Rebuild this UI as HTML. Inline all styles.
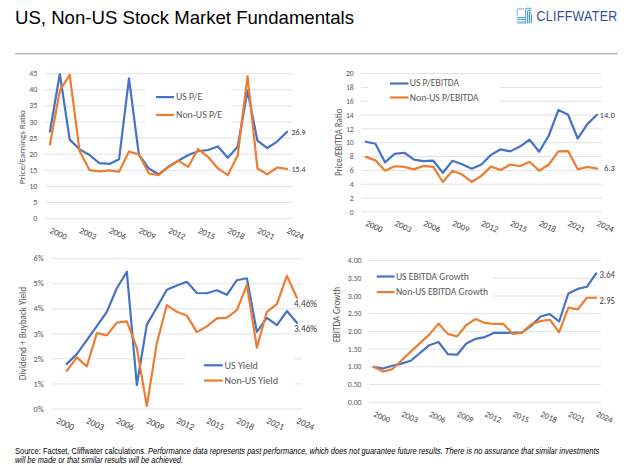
<!DOCTYPE html>
<html><head><meta charset="utf-8"><title>US, Non-US Stock Market Fundamentals</title>
<style>
html,body{margin:0;padding:0;background:#fff;}
body{width:624px;height:472px;overflow:hidden;position:relative;}
svg{position:absolute;left:0;top:0;}
</style></head><body>
<svg width="624" height="472" viewBox="0 0 624 472" font-family="Carlito, 'Liberation Sans', sans-serif">
<rect width="624" height="472" fill="#fff"/>
<text x="15.0" y="24.4" font-family="'Liberation Sans', Arial, sans-serif" font-size="19" fill="#000" textLength="339" lengthAdjust="spacingAndGlyphs">US, Non-US Stock Market Fundamentals</text>
<g id="logo" fill="none" stroke-width="1.2" stroke-linejoin="round">
<path d="M517.2,15.8 V9.8 Q517.2,8.8 518.2,8.8 H524" stroke="#86BDE8"/>
<path d="M517,17.5 H525.5 M517,19.4 H525.5" stroke="#5AA5DD"/>
<rect x="517" y="21.3" width="8.5" height="2.3" fill="#8CC4EA" stroke="none"/>
<path d="M525.6,23.6 V9.6 Q525.6,8.4 526.8,8.4 H531.4" stroke="#6AB0E2"/>
<path d="M527.5,23.3 V11.4 Q527.5,10.4 528.5,10.4 H531.4" stroke="#56A3DC"/>
<path d="M529.4,23.3 V13.2 Q529.4,12.4 530.2,12.4 H531" stroke="#3F93D3"/>
<path d="M531.4,23.3 V14.2" stroke="#4C9BD8"/>
</g>
<text transform="translate(536.6,20.8) scale(1,1.12)" x="0" y="0" font-family="'Liberation Sans', Arial, sans-serif" font-size="12.4" fill="#2F4F9C" textLength="80.6" lengthAdjust="spacing">CLIFFWATER</text>
<rect x="15" y="53" width="603" height="1" fill="#B2B2BE"/>
<rect x="15" y="54" width="603" height="0.6" fill="#DADAE0"/>
<g id="pe"><line x1="45" y1="218.7" x2="292" y2="218.7" stroke="#E2E2E2" stroke-width="1"/>
<text x="33.25" y="221.26" font-size="8" fill="#595959" textLength="4.05" lengthAdjust="spacingAndGlyphs">0</text>
<line x1="45" y1="202.58" x2="292" y2="202.58" stroke="#E2E2E2" stroke-width="1"/>
<text x="33.25" y="205.14" font-size="8" fill="#595959" textLength="4.05" lengthAdjust="spacingAndGlyphs">5</text>
<line x1="45" y1="186.46" x2="292" y2="186.46" stroke="#E2E2E2" stroke-width="1"/>
<text x="29.19" y="189.02" font-size="8" fill="#595959" textLength="8.11" lengthAdjust="spacingAndGlyphs">10</text>
<line x1="45" y1="170.34" x2="292" y2="170.34" stroke="#E2E2E2" stroke-width="1"/>
<text x="29.19" y="172.9" font-size="8" fill="#595959" textLength="8.11" lengthAdjust="spacingAndGlyphs">15</text>
<line x1="45" y1="154.22" x2="292" y2="154.22" stroke="#E2E2E2" stroke-width="1"/>
<text x="29.19" y="156.78" font-size="8" fill="#595959" textLength="8.11" lengthAdjust="spacingAndGlyphs">20</text>
<line x1="45" y1="138.1" x2="292" y2="138.1" stroke="#E2E2E2" stroke-width="1"/>
<text x="29.19" y="140.66" font-size="8" fill="#595959" textLength="8.11" lengthAdjust="spacingAndGlyphs">25</text>
<line x1="45" y1="121.98" x2="292" y2="121.98" stroke="#E2E2E2" stroke-width="1"/>
<text x="29.19" y="124.54" font-size="8" fill="#595959" textLength="8.11" lengthAdjust="spacingAndGlyphs">30</text>
<line x1="45" y1="105.86" x2="292" y2="105.86" stroke="#E2E2E2" stroke-width="1"/>
<text x="29.19" y="108.42" font-size="8" fill="#595959" textLength="8.11" lengthAdjust="spacingAndGlyphs">35</text>
<line x1="45" y1="89.74" x2="292" y2="89.74" stroke="#E2E2E2" stroke-width="1"/>
<text x="29.19" y="92.3" font-size="8" fill="#595959" textLength="8.11" lengthAdjust="spacingAndGlyphs">40</text>
<line x1="45" y1="73.62" x2="292" y2="73.62" stroke="#E2E2E2" stroke-width="1"/>
<text x="29.19" y="76.18" font-size="8" fill="#595959" textLength="8.11" lengthAdjust="spacingAndGlyphs">45</text>
<rect x="144.8" y="80" width="86.5" height="50" fill="#fff"/>
<polyline points="49.94,131.52 59.82,74.01 69.7,139.62 79.58,149.34 89.46,155.01 99.34,163.11 109.22,163.92 119.1,159.22 128.98,78.38 138.86,154.52 148.74,168.46 158.62,174.29 168.5,166.51 178.38,160.68 188.26,155.01 198.14,151.28 208.02,149.99 217.9,146.42 227.78,157.76 237.66,146.75 247.54,90.7 257.42,140.59 267.3,148.04 277.18,141.56 287.06,131.84" fill="none" stroke="#4472C4" stroke-width="2.2" stroke-linejoin="round" stroke-linecap="round"/>
<polyline points="49.94,144.48 59.82,90.7 69.7,74.82 79.58,150.96 89.46,170.08 99.34,171.37 109.22,170.4 119.1,171.7 128.98,151.61 138.86,154.52 148.74,173.32 158.62,175.1 168.5,167.16 178.38,160.68 188.26,166.84 198.14,149.02 208.02,156.79 217.9,168.46 227.78,175.1 237.66,155.5 247.54,76.44 257.42,168.46 267.3,174.29 277.18,167.48 287.06,168.91" fill="none" stroke="#ED7D31" stroke-width="2.2" stroke-linejoin="round" stroke-linecap="round"/>
<line x1="156" y1="97.1" x2="174" y2="97.1" stroke="#4472C4" stroke-width="2.2"/>
<text x="176" y="100.2" font-size="9.9" fill="#595959" textLength="26.2" lengthAdjust="spacingAndGlyphs">US P/E</text>
<line x1="156" y1="115.0" x2="174" y2="115.0" stroke="#ED7D31" stroke-width="2.2"/>
<text x="176" y="118.2" font-size="9.9" fill="#595959" textLength="46.2" lengthAdjust="spacingAndGlyphs">Non-US P/E</text>
<text x="291.4" y="135.0" font-size="8" fill="#404040" textLength="14.18" lengthAdjust="spacingAndGlyphs">26.9</text>
<text x="291.4" y="172.1" font-size="8" fill="#404040" textLength="14.18" lengthAdjust="spacingAndGlyphs">15.4</text>
<text x="21.8" y="147.2" transform="rotate(-90 21.8 147.2)" dy="2.97" font-size="9.0" text-anchor="middle" fill="#595959" textLength="74.1" lengthAdjust="spacingAndGlyphs">Price/Earnings Ratio</text>
<text x="49.2" y="232.4" transform="rotate(25 49.2 232.4)" font-size="8.7" fill="#474747" text-rendering="geometricPrecision" textLength="17.64" lengthAdjust="spacingAndGlyphs">2000</text>
<text x="78.84" y="232.4" transform="rotate(25 78.84 232.4)" font-size="8.7" fill="#474747" text-rendering="geometricPrecision" textLength="17.64" lengthAdjust="spacingAndGlyphs">2003</text>
<text x="108.48" y="232.4" transform="rotate(25 108.48 232.4)" font-size="8.7" fill="#474747" text-rendering="geometricPrecision" textLength="17.64" lengthAdjust="spacingAndGlyphs">2006</text>
<text x="138.12" y="232.4" transform="rotate(25 138.12 232.4)" font-size="8.7" fill="#474747" text-rendering="geometricPrecision" textLength="17.64" lengthAdjust="spacingAndGlyphs">2009</text>
<text x="167.76" y="232.4" transform="rotate(25 167.76 232.4)" font-size="8.7" fill="#474747" text-rendering="geometricPrecision" textLength="17.64" lengthAdjust="spacingAndGlyphs">2012</text>
<text x="197.4" y="232.4" transform="rotate(25 197.4 232.4)" font-size="8.7" fill="#474747" text-rendering="geometricPrecision" textLength="17.64" lengthAdjust="spacingAndGlyphs">2015</text>
<text x="227.04" y="232.4" transform="rotate(25 227.04 232.4)" font-size="8.7" fill="#474747" text-rendering="geometricPrecision" textLength="17.64" lengthAdjust="spacingAndGlyphs">2018</text>
<text x="256.68" y="232.4" transform="rotate(25 256.68 232.4)" font-size="8.7" fill="#474747" text-rendering="geometricPrecision" textLength="17.64" lengthAdjust="spacingAndGlyphs">2021</text>
<text x="286.32" y="232.4" transform="rotate(25 286.32 232.4)" font-size="8.7" fill="#474747" text-rendering="geometricPrecision" textLength="17.64" lengthAdjust="spacingAndGlyphs">2024</text></g>
<g id="pebitda"><line x1="361" y1="211.8" x2="601.8" y2="211.8" stroke="#E2E2E2" stroke-width="1"/>
<text x="349.8" y="214.52" font-size="8.5" fill="#595959" textLength="3.9" lengthAdjust="spacingAndGlyphs">0</text>
<line x1="361" y1="197.98" x2="601.8" y2="197.98" stroke="#E2E2E2" stroke-width="1"/>
<text x="349.8" y="200.7" font-size="8.5" fill="#595959" textLength="3.9" lengthAdjust="spacingAndGlyphs">2</text>
<line x1="361" y1="184.16" x2="601.8" y2="184.16" stroke="#E2E2E2" stroke-width="1"/>
<text x="349.8" y="186.88" font-size="8.5" fill="#595959" textLength="3.9" lengthAdjust="spacingAndGlyphs">4</text>
<line x1="361" y1="170.34" x2="601.8" y2="170.34" stroke="#E2E2E2" stroke-width="1"/>
<text x="349.8" y="173.06" font-size="8.5" fill="#595959" textLength="3.9" lengthAdjust="spacingAndGlyphs">6</text>
<line x1="361" y1="156.52" x2="601.8" y2="156.52" stroke="#E2E2E2" stroke-width="1"/>
<text x="349.8" y="159.24" font-size="8.5" fill="#595959" textLength="3.9" lengthAdjust="spacingAndGlyphs">8</text>
<line x1="361" y1="142.7" x2="601.8" y2="142.7" stroke="#E2E2E2" stroke-width="1"/>
<text x="345.89" y="145.42" font-size="8.5" fill="#595959" textLength="7.81" lengthAdjust="spacingAndGlyphs">10</text>
<line x1="361" y1="128.88" x2="601.8" y2="128.88" stroke="#E2E2E2" stroke-width="1"/>
<text x="345.89" y="131.6" font-size="8.5" fill="#595959" textLength="7.81" lengthAdjust="spacingAndGlyphs">12</text>
<line x1="361" y1="115.06" x2="601.8" y2="115.06" stroke="#E2E2E2" stroke-width="1"/>
<text x="345.89" y="117.78" font-size="8.5" fill="#595959" textLength="7.81" lengthAdjust="spacingAndGlyphs">14</text>
<line x1="361" y1="101.24" x2="601.8" y2="101.24" stroke="#E2E2E2" stroke-width="1"/>
<text x="345.89" y="103.96" font-size="8.5" fill="#595959" textLength="7.81" lengthAdjust="spacingAndGlyphs">16</text>
<line x1="361" y1="87.42" x2="601.8" y2="87.42" stroke="#E2E2E2" stroke-width="1"/>
<text x="345.89" y="90.14" font-size="8.5" fill="#595959" textLength="7.81" lengthAdjust="spacingAndGlyphs">18</text>
<line x1="361" y1="73.6" x2="601.8" y2="73.6" stroke="#E2E2E2" stroke-width="1"/>
<text x="345.89" y="76.32" font-size="8.5" fill="#595959" textLength="7.81" lengthAdjust="spacingAndGlyphs">20</text>
<rect x="368" y="76" width="132" height="34" fill="#fff"/>
<polyline points="365.82,141.71 375.45,143.78 385.08,162.44 394.71,153.8 404.34,152.76 413.98,159.68 423.61,161.06 433.24,160.71 442.87,172.8 452.5,160.71 462.14,164.17 471.77,168.66 481.4,164.51 491.03,154.84 500.66,149.31 510.3,151.38 519.93,146.55 529.56,139.64 539.19,151.73 548.82,135.49 558.46,109.92 568.09,114.76 577.72,138.6 587.35,124.09 596.98,114.76" fill="none" stroke="#4472C4" stroke-width="2.2" stroke-linejoin="round" stroke-linecap="round"/>
<polyline points="365.82,156.91 375.45,160.37 385.08,170.73 394.71,166.24 404.34,166.93 413.98,169.35 423.61,165.89 433.24,166.93 442.87,181.99 452.5,170.73 462.14,174.53 471.77,181.99 481.4,175.91 491.03,166.59 500.66,170.04 510.3,164.51 519.93,166.24 529.56,161.75 539.19,170.73 548.82,164.51 558.46,151.38 568.09,151.04 577.72,169.35 587.35,166.93 596.98,168.66" fill="none" stroke="#ED7D31" stroke-width="2.2" stroke-linejoin="round" stroke-linecap="round"/>
<line x1="390" y1="83.5" x2="408.5" y2="83.5" stroke="#4472C4" stroke-width="2.2"/>
<text x="409.8" y="86.0" font-size="9.65" fill="#595959" textLength="49.4" lengthAdjust="spacingAndGlyphs">US P/EBITDA</text>
<line x1="390" y1="97.5" x2="408.5" y2="97.5" stroke="#ED7D31" stroke-width="2.2"/>
<text x="409.8" y="100.8" font-size="9.65" fill="#595959" textLength="68.9" lengthAdjust="spacingAndGlyphs">Non-US P/EBITDA</text>
<text x="599.6" y="118.2" font-size="8.6" fill="#404040" textLength="15.25" lengthAdjust="spacingAndGlyphs">14.0</text>
<text x="604.0" y="171.2" font-size="8.6" fill="#404040" textLength="10.89" lengthAdjust="spacingAndGlyphs">6.3</text>
<text x="339.0" y="142.4" transform="rotate(-90 339.0 142.4)" dy="3.07" font-size="9.3" text-anchor="middle" fill="#595959" textLength="67.2" lengthAdjust="spacingAndGlyphs">Price/EBITDA Ratio</text>
<text x="365" y="225.2" transform="rotate(25 365 225.2)" font-size="8.7" fill="#474747" text-rendering="geometricPrecision" textLength="17.64" lengthAdjust="spacingAndGlyphs">2000</text>
<text x="393.9" y="225.2" transform="rotate(25 393.9 225.2)" font-size="8.7" fill="#474747" text-rendering="geometricPrecision" textLength="17.64" lengthAdjust="spacingAndGlyphs">2003</text>
<text x="422.79" y="225.2" transform="rotate(25 422.79 225.2)" font-size="8.7" fill="#474747" text-rendering="geometricPrecision" textLength="17.64" lengthAdjust="spacingAndGlyphs">2006</text>
<text x="451.69" y="225.2" transform="rotate(25 451.69 225.2)" font-size="8.7" fill="#474747" text-rendering="geometricPrecision" textLength="17.64" lengthAdjust="spacingAndGlyphs">2009</text>
<text x="480.58" y="225.2" transform="rotate(25 480.58 225.2)" font-size="8.7" fill="#474747" text-rendering="geometricPrecision" textLength="17.64" lengthAdjust="spacingAndGlyphs">2012</text>
<text x="509.48" y="225.2" transform="rotate(25 509.48 225.2)" font-size="8.7" fill="#474747" text-rendering="geometricPrecision" textLength="17.64" lengthAdjust="spacingAndGlyphs">2015</text>
<text x="538.38" y="225.2" transform="rotate(25 538.38 225.2)" font-size="8.7" fill="#474747" text-rendering="geometricPrecision" textLength="17.64" lengthAdjust="spacingAndGlyphs">2018</text>
<text x="567.27" y="225.2" transform="rotate(25 567.27 225.2)" font-size="8.7" fill="#474747" text-rendering="geometricPrecision" textLength="17.64" lengthAdjust="spacingAndGlyphs">2021</text>
<text x="596.17" y="225.2" transform="rotate(25 596.17 225.2)" font-size="8.7" fill="#474747" text-rendering="geometricPrecision" textLength="17.64" lengthAdjust="spacingAndGlyphs">2024</text></g>
<g id="yield"><line x1="51.8" y1="409" x2="301.9" y2="409" stroke="#E2E2E2" stroke-width="1"/>
<text x="33.44" y="411.69" font-size="8.4" fill="#595959" textLength="10.26" lengthAdjust="spacingAndGlyphs">0%</text>
<line x1="51.8" y1="383.95" x2="301.9" y2="383.95" stroke="#E2E2E2" stroke-width="1"/>
<text x="33.44" y="386.64" font-size="8.4" fill="#595959" textLength="10.26" lengthAdjust="spacingAndGlyphs">1%</text>
<line x1="51.8" y1="358.9" x2="301.9" y2="358.9" stroke="#E2E2E2" stroke-width="1"/>
<text x="33.44" y="361.59" font-size="8.4" fill="#595959" textLength="10.26" lengthAdjust="spacingAndGlyphs">2%</text>
<line x1="51.8" y1="333.85" x2="301.9" y2="333.85" stroke="#E2E2E2" stroke-width="1"/>
<text x="33.44" y="336.54" font-size="8.4" fill="#595959" textLength="10.26" lengthAdjust="spacingAndGlyphs">3%</text>
<line x1="51.8" y1="308.8" x2="301.9" y2="308.8" stroke="#E2E2E2" stroke-width="1"/>
<text x="33.44" y="311.49" font-size="8.4" fill="#595959" textLength="10.26" lengthAdjust="spacingAndGlyphs">4%</text>
<line x1="51.8" y1="283.75" x2="301.9" y2="283.75" stroke="#E2E2E2" stroke-width="1"/>
<text x="33.44" y="286.44" font-size="8.4" fill="#595959" textLength="10.26" lengthAdjust="spacingAndGlyphs">5%</text>
<line x1="51.8" y1="258.7" x2="301.9" y2="258.7" stroke="#E2E2E2" stroke-width="1"/>
<text x="33.44" y="261.39" font-size="8.4" fill="#595959" textLength="10.26" lengthAdjust="spacingAndGlyphs">6%</text>
<rect x="184.8" y="340" width="110.19999999999999" height="60" fill="#fff"/>
<polyline points="66.81,363.91 76.81,354.14 86.81,340.11 96.82,326.08 106.82,311.81 116.83,288.26 126.83,271.73 136.83,384.95 146.84,324.58 156.84,307.55 166.85,289.76 176.85,285.5 186.85,281.75 196.86,293.02 206.86,293.27 216.87,290.26 226.87,294.77 236.87,280.24 246.88,278.24 256.88,331.85 266.89,317.82 276.89,325.08 286.89,311.05 296.9,322.83" fill="none" stroke="#4472C4" stroke-width="2.2" stroke-linejoin="round" stroke-linecap="round"/>
<polyline points="66.81,370.92 76.81,357.4 86.81,366.42 96.82,333.1 106.82,335.35 116.83,322.58 126.83,321.32 136.83,347.88 146.84,405.99 156.84,343.12 166.85,305.04 176.85,311.81 186.85,315.56 196.86,332.1 206.86,326.34 216.87,318.32 226.87,317.57 236.87,310.05 246.88,285 256.88,347.63 266.89,311.81 276.89,304.04 286.89,275.73 296.9,297.78" fill="none" stroke="#ED7D31" stroke-width="2.2" stroke-linejoin="round" stroke-linecap="round"/>
<line x1="204" y1="365.3" x2="222.7" y2="365.3" stroke="#4472C4" stroke-width="2.2"/>
<text x="224.6" y="368.6" font-size="10.1" fill="#595959" textLength="33.3" lengthAdjust="spacingAndGlyphs">US Yield</text>
<line x1="204" y1="380.5" x2="222.7" y2="380.5" stroke="#ED7D31" stroke-width="2.2"/>
<text x="224.6" y="383.8" font-size="10.1" fill="#595959" textLength="53.4" lengthAdjust="spacingAndGlyphs">Non-US Yield</text>
<text x="293.9" y="307.0" font-size="9.3" fill="#404040" textLength="23.14" lengthAdjust="spacingAndGlyphs">4.46%</text>
<text x="293.9" y="331.6" font-size="9.3" fill="#404040" textLength="23.14" lengthAdjust="spacingAndGlyphs">3.46%</text>
<text x="22.7" y="333.6" transform="rotate(-90 22.7 333.6)" dy="3.04" font-size="9.2" text-anchor="middle" fill="#595959" textLength="93.2" lengthAdjust="spacingAndGlyphs">Dividend + Buyback Yield</text>
<text x="55.6" y="422.7" transform="rotate(25 55.6 422.7)" font-size="9.2" fill="#474747" text-rendering="geometricPrecision" textLength="18.65" lengthAdjust="spacingAndGlyphs">2000</text>
<text x="85.61" y="422.7" transform="rotate(25 85.61 422.7)" font-size="9.2" fill="#474747" text-rendering="geometricPrecision" textLength="18.65" lengthAdjust="spacingAndGlyphs">2003</text>
<text x="115.62" y="422.7" transform="rotate(25 115.62 422.7)" font-size="9.2" fill="#474747" text-rendering="geometricPrecision" textLength="18.65" lengthAdjust="spacingAndGlyphs">2006</text>
<text x="145.64" y="422.7" transform="rotate(25 145.64 422.7)" font-size="9.2" fill="#474747" text-rendering="geometricPrecision" textLength="18.65" lengthAdjust="spacingAndGlyphs">2009</text>
<text x="175.65" y="422.7" transform="rotate(25 175.65 422.7)" font-size="9.2" fill="#474747" text-rendering="geometricPrecision" textLength="18.65" lengthAdjust="spacingAndGlyphs">2012</text>
<text x="205.66" y="422.7" transform="rotate(25 205.66 422.7)" font-size="9.2" fill="#474747" text-rendering="geometricPrecision" textLength="18.65" lengthAdjust="spacingAndGlyphs">2015</text>
<text x="235.67" y="422.7" transform="rotate(25 235.67 422.7)" font-size="9.2" fill="#474747" text-rendering="geometricPrecision" textLength="18.65" lengthAdjust="spacingAndGlyphs">2018</text>
<text x="265.68" y="422.7" transform="rotate(25 265.68 422.7)" font-size="9.2" fill="#474747" text-rendering="geometricPrecision" textLength="18.65" lengthAdjust="spacingAndGlyphs">2021</text>
<text x="295.7" y="422.7" transform="rotate(25 295.7 422.7)" font-size="9.2" fill="#474747" text-rendering="geometricPrecision" textLength="18.65" lengthAdjust="spacingAndGlyphs">2024</text></g>
<g id="growth"><line x1="369" y1="402.2" x2="600.8" y2="402.2" stroke="#E2E2E2" stroke-width="1"/>
<text x="347.68" y="404.71" font-size="7.85" fill="#595959" textLength="13.92" lengthAdjust="spacingAndGlyphs">0.00</text>
<line x1="369" y1="384.5" x2="600.8" y2="384.5" stroke="#E2E2E2" stroke-width="1"/>
<text x="347.68" y="387.01" font-size="7.85" fill="#595959" textLength="13.92" lengthAdjust="spacingAndGlyphs">0.50</text>
<line x1="369" y1="366.8" x2="600.8" y2="366.8" stroke="#E2E2E2" stroke-width="1"/>
<text x="347.68" y="369.31" font-size="7.85" fill="#595959" textLength="13.92" lengthAdjust="spacingAndGlyphs">1.00</text>
<line x1="369" y1="349.1" x2="600.8" y2="349.1" stroke="#E2E2E2" stroke-width="1"/>
<text x="347.68" y="351.61" font-size="7.85" fill="#595959" textLength="13.92" lengthAdjust="spacingAndGlyphs">1.50</text>
<line x1="369" y1="331.4" x2="600.8" y2="331.4" stroke="#E2E2E2" stroke-width="1"/>
<text x="347.68" y="333.91" font-size="7.85" fill="#595959" textLength="13.92" lengthAdjust="spacingAndGlyphs">2.00</text>
<line x1="369" y1="313.7" x2="600.8" y2="313.7" stroke="#E2E2E2" stroke-width="1"/>
<text x="347.68" y="316.21" font-size="7.85" fill="#595959" textLength="13.92" lengthAdjust="spacingAndGlyphs">2.50</text>
<line x1="369" y1="296" x2="600.8" y2="296" stroke="#E2E2E2" stroke-width="1"/>
<text x="347.68" y="298.51" font-size="7.85" fill="#595959" textLength="13.92" lengthAdjust="spacingAndGlyphs">3.00</text>
<line x1="369" y1="278.3" x2="600.8" y2="278.3" stroke="#E2E2E2" stroke-width="1"/>
<text x="347.68" y="280.81" font-size="7.85" fill="#595959" textLength="13.92" lengthAdjust="spacingAndGlyphs">3.50</text>
<line x1="369" y1="260.6" x2="600.8" y2="260.6" stroke="#E2E2E2" stroke-width="1"/>
<text x="347.68" y="263.11" font-size="7.85" fill="#595959" textLength="13.92" lengthAdjust="spacingAndGlyphs">4.00</text>
<rect x="370.6" y="266" width="122.5" height="39" fill="#fff"/>
<polyline points="373.64,366.8 382.91,368.57 392.18,365.74 401.45,363.61 410.72,360.78 420,352.99 429.27,345.21 438.54,342.02 447.81,354.06 457.08,354.76 466.36,343.44 475.63,338.83 484.9,337.06 494.17,332.82 503.44,332.82 512.72,332.82 521.99,332.46 531.26,325.74 540.53,316.53 549.8,314.05 559.08,321.49 568.35,293.52 577.62,288.92 586.89,286.8 596.16,273.34" fill="none" stroke="#4472C4" stroke-width="2.2" stroke-linejoin="round" stroke-linecap="round"/>
<polyline points="373.64,366.8 382.91,371.58 392.18,369.28 401.45,360.43 410.72,351.58 420,343.08 429.27,334.59 438.54,323.61 447.81,333.88 457.08,336.36 466.36,325.03 475.63,319.01 484.9,322.9 494.17,323.97 503.44,323.97 512.72,333.88 521.99,332.82 531.26,324.32 540.53,321.13 549.8,319.72 559.08,332.46 568.35,307.68 577.62,309.45 586.89,297.77 596.16,297.77" fill="none" stroke="#ED7D31" stroke-width="2.2" stroke-linejoin="round" stroke-linecap="round"/>
<line x1="376.7" y1="276.5" x2="394.6" y2="276.5" stroke="#4472C4" stroke-width="2.2"/>
<text x="395.9" y="279.8" font-size="9.65" fill="#595959" textLength="73.0" lengthAdjust="spacingAndGlyphs">US EBITDA Growth</text>
<line x1="376.7" y1="292.1" x2="394.6" y2="292.1" stroke="#ED7D31" stroke-width="2.2"/>
<text x="395.9" y="295.2" font-size="9.65" fill="#595959" textLength="92.2" lengthAdjust="spacingAndGlyphs">Non-US EBITDA Growth</text>
<text x="599.6" y="277.9" font-size="9.1" fill="#404040" textLength="15.42" lengthAdjust="spacingAndGlyphs">3.64</text>
<text x="599.6" y="303.8" font-size="9.1" fill="#404040" textLength="15.42" lengthAdjust="spacingAndGlyphs">2.95</text>
<text x="337.4" y="314.6" transform="rotate(-90 337.4 314.6)" dy="3.04" font-size="9.2" text-anchor="middle" fill="#595959" textLength="55.4" lengthAdjust="spacingAndGlyphs">EBITDA Growth</text>
<text x="373.1" y="415.9" transform="rotate(25 373.1 415.9)" font-size="8.4" fill="#474747" text-rendering="geometricPrecision" textLength="17.03" lengthAdjust="spacingAndGlyphs">2000</text>
<text x="400.92" y="415.9" transform="rotate(25 400.92 415.9)" font-size="8.4" fill="#474747" text-rendering="geometricPrecision" textLength="17.03" lengthAdjust="spacingAndGlyphs">2003</text>
<text x="428.73" y="415.9" transform="rotate(25 428.73 415.9)" font-size="8.4" fill="#474747" text-rendering="geometricPrecision" textLength="17.03" lengthAdjust="spacingAndGlyphs">2006</text>
<text x="456.55" y="415.9" transform="rotate(25 456.55 415.9)" font-size="8.4" fill="#474747" text-rendering="geometricPrecision" textLength="17.03" lengthAdjust="spacingAndGlyphs">2009</text>
<text x="484.36" y="415.9" transform="rotate(25 484.36 415.9)" font-size="8.4" fill="#474747" text-rendering="geometricPrecision" textLength="17.03" lengthAdjust="spacingAndGlyphs">2012</text>
<text x="512.18" y="415.9" transform="rotate(25 512.18 415.9)" font-size="8.4" fill="#474747" text-rendering="geometricPrecision" textLength="17.03" lengthAdjust="spacingAndGlyphs">2015</text>
<text x="540" y="415.9" transform="rotate(25 540 415.9)" font-size="8.4" fill="#474747" text-rendering="geometricPrecision" textLength="17.03" lengthAdjust="spacingAndGlyphs">2018</text>
<text x="567.81" y="415.9" transform="rotate(25 567.81 415.9)" font-size="8.4" fill="#474747" text-rendering="geometricPrecision" textLength="17.03" lengthAdjust="spacingAndGlyphs">2021</text>
<text x="595.63" y="415.9" transform="rotate(25 595.63 415.9)" font-size="8.4" fill="#474747" text-rendering="geometricPrecision" textLength="17.03" lengthAdjust="spacingAndGlyphs">2024</text></g>
<text x="15" y="453.5" font-family="'Liberation Sans', Arial, sans-serif" font-size="8.3" fill="#000" textLength="584.3" lengthAdjust="spacingAndGlyphs">Source: Factset, Cliffwater calculations. <tspan font-style="italic">Performance data represents past performance, which does not guarantee future results. There is no assurance that similar investments</tspan></text>
<text x="15" y="462.6" font-family="'Liberation Sans', Arial, sans-serif" font-size="8.3" font-style="italic" fill="#000" textLength="168" lengthAdjust="spacingAndGlyphs">will be made or that similar results will be achieved.</text>
</svg>
</body></html>
